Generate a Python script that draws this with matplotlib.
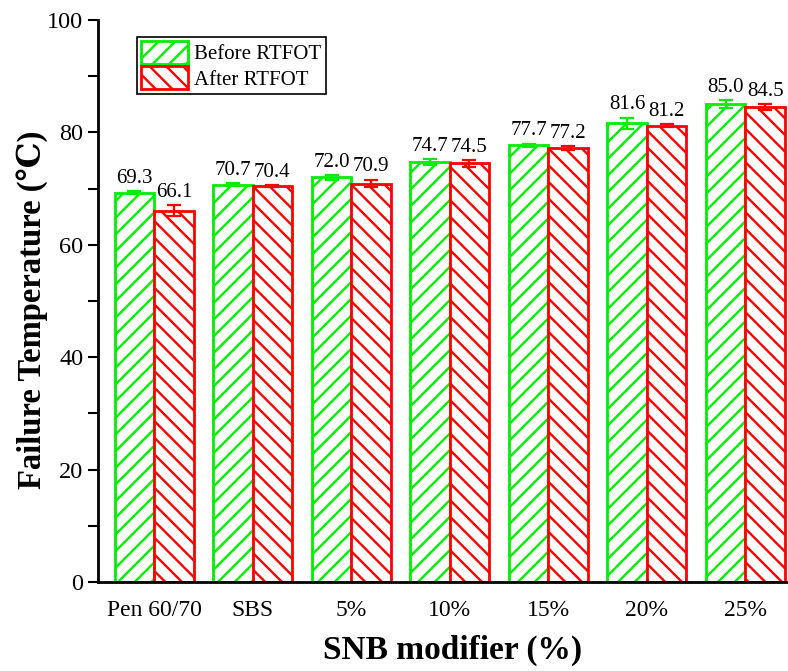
import numpy as np
import matplotlib
matplotlib.use('Agg')
from matplotlib import pyplot as plt
from matplotlib.ticker import MultipleLocator

categories = ['Pen 60/70', 'SBS', '5%', '10%', '15%', '20%', '25%']
before = [69.3, 70.7, 72.0, 74.7, 77.7, 81.6, 85.0]
after = [66.1, 70.4, 70.9, 74.5, 77.2, 81.2, 84.5]
before_err = [0.2, 0.3, 0.4, 0.5, 0.3, 1.0, 0.7]
after_err = [0.9, 0.2, 0.7, 0.6, 0.3, 0.3, 0.5]

plt.rcParams['font.family'] = ['Liberation Serif', 'DejaVu Serif']
plt.rcParams['hatch.linewidth'] = 1.7

green = '#00ee00'
red = '#ff0000'

fig = plt.figure(figsize=(7.88, 6.71), dpi=100)
ax = fig.add_axes([0.1244, 0.1326, 0.874, 0.8376])

x = np.arange(len(categories))
w = 0.4
ax.bar(x - w/2, before, w, color='white', edgecolor=green, hatch='//', linewidth=2,
       yerr=before_err, ecolor=green, capsize=5, error_kw={'elinewidth': 1.6, 'capthick': 1.6},
       label='Before RTFOT')
ax.bar(x + w/2, after, w, color='white', edgecolor=red, hatch='\\\\', linewidth=2,
       yerr=after_err, ecolor=red, capsize=5, error_kw={'elinewidth': 1.6, 'capthick': 1.6},
       label='After RTFOT')

for i in range(len(categories)):
    ax.text(x[i] - w/2, before[i] + before_err[i] + 0.6, f'{before[i]:.1f}',
            ha='center', va='bottom', fontsize=15)
    ax.text(x[i] + w/2, after[i] + after_err[i] + 0.6, f'{after[i]:.1f}',
            ha='center', va='bottom', fontsize=15)

ax.set_xlim(-0.57, 6.42)
ax.set_ylim(0, 100)
ax.set_xticks(x)
ax.set_xticklabels(categories, fontsize=17)
ax.tick_params(axis='x', length=0, pad=13)
ax.yaxis.set_major_locator(MultipleLocator(20))
ax.yaxis.set_minor_locator(MultipleLocator(10))
ax.tick_params(axis='y', which='both', direction='out', length=7, width=1.5, labelsize=17.5)
for s in ['top', 'right']:
    ax.spines[s].set_visible(False)
for s in ['left', 'bottom']:
    ax.spines[s].set_linewidth(2)

ax.set_xlabel('SNB modifier (%)', fontsize=24, fontweight='bold')
ax.xaxis.set_label_coords(0.515, -0.094)
ax.set_ylabel('Failure Temperature (\u2103)', fontsize=23.5, fontweight='bold')
ax.yaxis.set_label_coords(-0.073, 0.484)

leg = ax.legend(loc='upper left', bbox_to_anchor=(0.0565, 0.97), fontsize=15,
                handlelength=2.25, handleheight=1.3, fancybox=False, framealpha=1,
                edgecolor='black', borderpad=0.2, labelspacing=0.1, handletextpad=0.3,
                borderaxespad=0)
leg.get_frame().set_linewidth(1.2)

fig.savefig('out.png', dpi=100)
